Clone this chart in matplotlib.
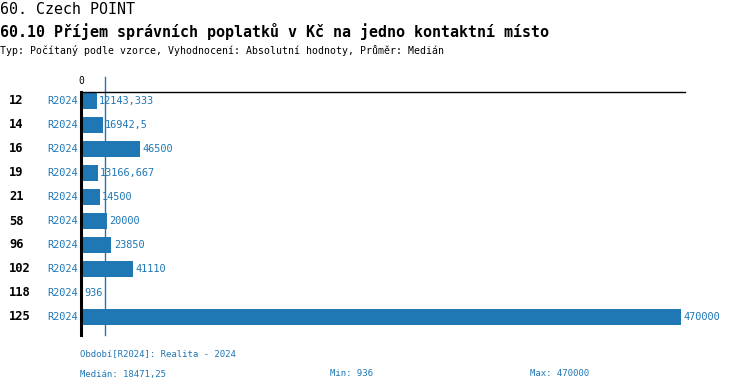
import matplotlib as mpl
mpl.use('Agg')
import matplotlib.pyplot as plt

# data
ids = ['12', '14', '16', '19', '21', '58', '96', '102', '118', '125']
period = 'R2024'
values = [12143.333, 16942.5, 46500, 13166.667, 14500, 20000, 23850, 41110, 936, 470000]
value_labels = ['12143,333', '16942,5', '46500', '13166,667', '14500',
                '20000', '23850', '41110', '936', '470000']
median = 18471.25
median_label = '18471,25'
min_label = '936'
max_label = '470000'

blue = '#1f77b4'
W, H = 750, 392
plt.rcParams['font.family'] = ['DejaVu Sans Mono']

fig = plt.figure(figsize=(W / 100, H / 100), dpi=100)

def px(x, y):
    return x / W, 1 - y / H

# titles
fig.text(*px(0, 10), '60. Czech POINT', fontsize=10.8, va='center', ha='left')
fig.text(*px(0, 31), '60.10 Příjem správních poplatků v Kč na jedno kontaktní místo',
         fontsize=10.8, fontweight='bold', va='center', ha='left')
fig.text(*px(0, 50), 'Typ: Počítaný podle vzorce, Vyhodnocení: Absolutní hodnoty, Průměr: Medián',
         fontsize=7.1, va='center', ha='left')

# plot area
left, right, top, bottom = 81, 685, 92, 335
ax = fig.add_axes([left / W, 1 - bottom / H, (right - left) / W, (bottom - top) / H])
xmax = 470000 * (right - left) / 600.0
ax.set_xlim(0, xmax)
ax.set_ylim((bottom - 101) / 24.0, -(101 - top) / 24.0)

rows = list(range(len(ids)))
ax.barh(rows, values, height=0.67, color=blue, zorder=2)
ax.axvline(median, color=blue, lw=1, zorder=1, ymax=1.06, clip_on=False)

for i, v in enumerate(values):
    ax.text(v + xmax * 0.004, i, value_labels[i], color=blue, fontsize=7.4,
            va='center', ha='left')
    ax.text(-xmax * 0.005, i, period, color=blue, fontsize=7.4, va='center', ha='right')
    fig.text(9 / W, 1 - (101 + 24 * i) / H, ids[i], fontsize=8.7, fontweight='bold',
             va='center', ha='left')

for s in ['right', 'bottom']:
    ax.spines[s].set_visible(False)
ax.spines['left'].set_linewidth(2.2)
ax.spines['top'].set_linewidth(1)
ax.set_xticks([])
ax.set_yticks([])
ax.text(0, -0.83, '0', fontsize=7, ha='center', va='center', clip_on=False)

# footer
fig.text(*px(80, 354), 'Období[R2024]: Realita - 2024', color=blue, fontsize=6.5, va='center')
fig.text(*px(80, 374), 'Medián: ' + median_label, color=blue, fontsize=6.5, va='center')
fig.text(*px(330, 374), 'Min: ' + min_label, color=blue, fontsize=6.5, va='center')
fig.text(*px(530, 374), 'Max: ' + max_label, color=blue, fontsize=6.5, va='center')

plt.savefig('out.png', dpi=100)
